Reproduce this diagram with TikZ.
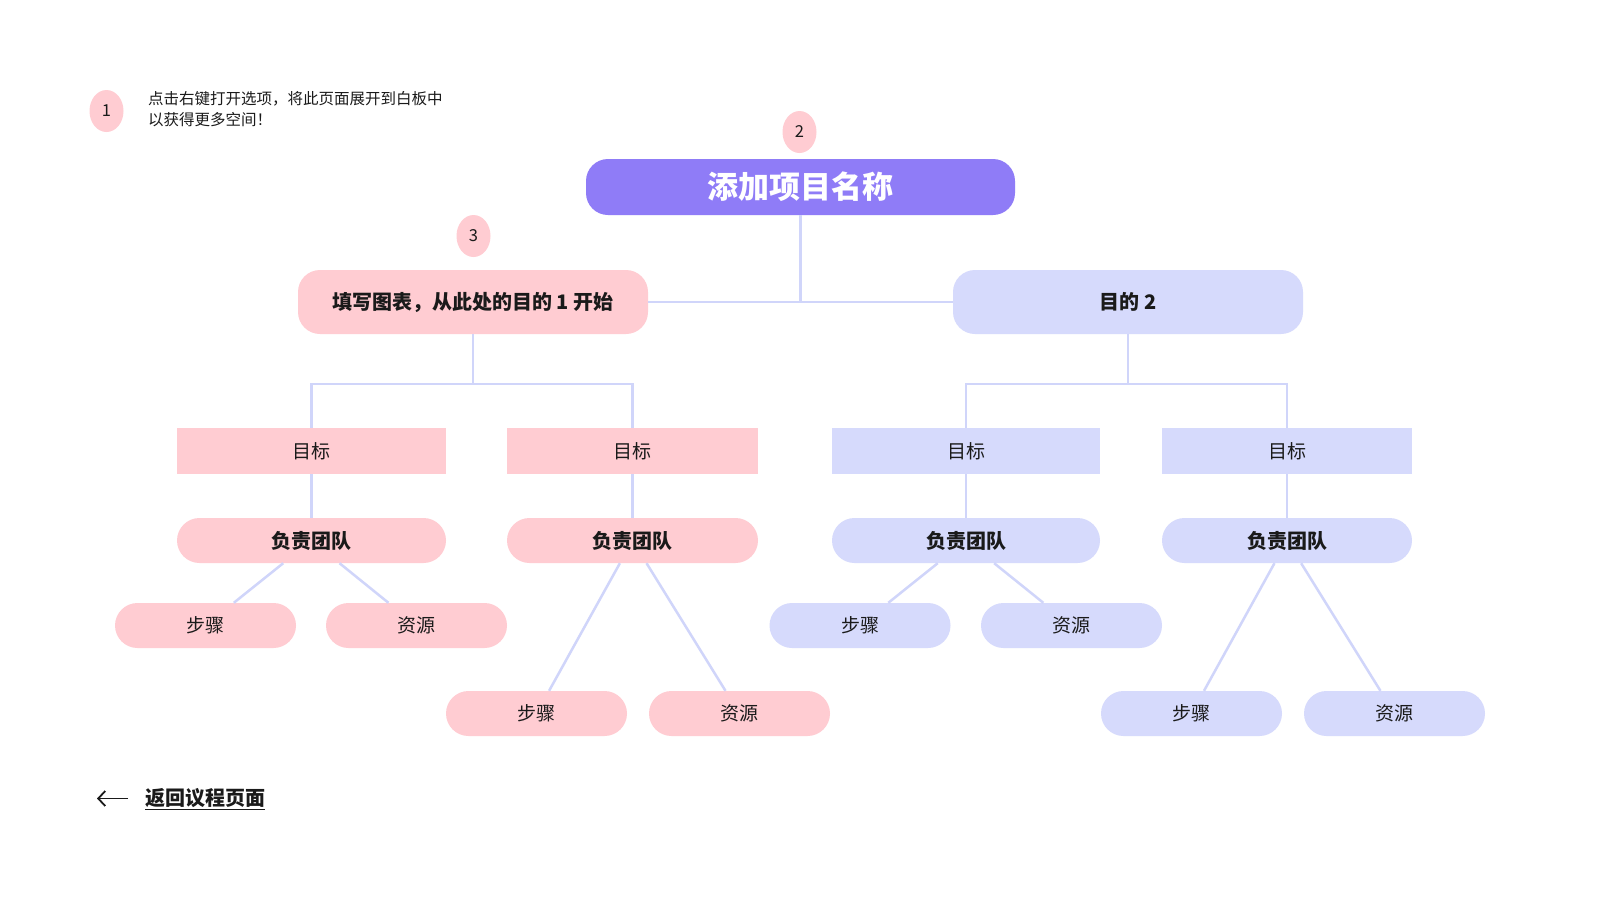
\documentclass[tikz,border=0pt]{standalone}
\usepackage{fontspec}
\setmainfont{Noto Sans CJK SC}
\usetikzlibrary{shapes.geometric,arrows.meta,calc}
\definecolor{pinkfill}{HTML}{FFCCD2}
\definecolor{lavfill}{HTML}{D6DAFC}
\definecolor{purplefill}{HTML}{8F7CF7}
\definecolor{linecol}{HTML}{D0D5FA}
\definecolor{ink}{HTML}{1A1A1A}
\begin{document}
\begin{tikzpicture}[x=1pt,y=-1pt,
  conn/.style={draw=linecol,line width=2.5pt},
  badge/.style={ellipse,fill=pinkfill,minimum width=34pt,minimum height=42pt,inner sep=0pt,font=\fontsize{16.5}{19}\selectfont,text=ink},
  pillbig/.style={rectangle,rounded corners=22pt,minimum height=64pt,minimum width=350pt,inner sep=0pt,font=\bfseries\fontsize{20}{24}\selectfont,text=ink},
  goalbox/.style={rectangle,minimum height=46pt,inner sep=0pt,font=\fontsize{19}{23}\selectfont,text=ink},
  teambox/.style={rectangle,rounded corners=22.5pt,minimum height=45pt,inner sep=0pt,font=\bfseries\fontsize{20}{24}\selectfont,text=ink},
  leafbox/.style={rectangle,rounded corners=22.5pt,minimum height=45pt,minimum width=181pt,inner sep=0pt,font=\fontsize{19}{23}\selectfont,text=ink},
]
\fill[white] (0,0) rectangle (1600,900);
\useasboundingbox (0,0) rectangle (1600,900);

% note
\node[badge] (b1) at (106.5,111) {1};
\node[anchor=west,align=left,inner sep=0pt,text=ink,font=\fontsize{15.5}{21}\selectfont] (note) at (148,109.5) {点击右键打开选项，将此页面展开到白板中\\以获得更多空间！};

% title
\node[badge] (b2) at (799.5,132) {2};
\node[rectangle,fill=purplefill,rounded corners=22pt,minimum width=429pt,minimum height=56pt,inner sep=0pt,text=white,font=\bfseries\fontsize{31}{36}\selectfont] (title) at (800.5,187) {添加项目名称};

% level 1
\node[badge] (b3) at (473.5,236) {3};
\node[pillbig,fill=pinkfill] (p1) at (473,302) {填写图表，从此处的目的 1 开始};
\node[pillbig,fill=lavfill] (p2) at (1128,302) {目的 2};

% goals
\node[goalbox,fill=pinkfill,minimum width=269pt] (g1) at (311.5,451) {目标};
\node[goalbox,fill=pinkfill,minimum width=251pt] (g2) at (632.5,451) {目标};
\node[goalbox,fill=lavfill,minimum width=268pt] (g3) at (966,451) {目标};
\node[goalbox,fill=lavfill,minimum width=250pt] (g4) at (1287,451) {目标};

% teams
\node[teambox,fill=pinkfill,minimum width=269pt] (t1) at (311.5,540.5) {负责团队};
\node[teambox,fill=pinkfill,minimum width=251pt] (t2) at (632.5,540.5) {负责团队};
\node[teambox,fill=lavfill,minimum width=268pt] (t3) at (966,540.5) {负责团队};
\node[teambox,fill=lavfill,minimum width=250pt] (t4) at (1287,540.5) {负责团队};

% leaves
\node[leafbox,fill=pinkfill] (s1) at (205.5,625.5) {步骤};
\node[leafbox,fill=pinkfill] (r1) at (416.5,625.5) {资源};
\node[leafbox,fill=pinkfill] (s2) at (536.5,713.5) {步骤};
\node[leafbox,fill=pinkfill] (r2) at (739.5,713.5) {资源};
\node[leafbox,fill=lavfill] (s3) at (860,625.5) {步骤};
\node[leafbox,fill=lavfill] (r3) at (1071.5,625.5) {资源};
\node[leafbox,fill=lavfill] (s4) at (1191.5,713.5) {步骤};
\node[leafbox,fill=lavfill] (r4) at (1394.5,713.5) {资源};

% connectors
\coordinate (j0) at (800.5,302);
\coordinate (j1) at (473,384);
\coordinate (j2) at (1128,384);
\draw[conn] (p1) -- (p2);
\draw[conn] (title) -- (j0);
\draw[conn] (p1) -- (j1);
\draw[conn] (j1) -| (g1);
\draw[conn] (j1) -| (g2);
\draw[conn] (p2) -- (j2);
\draw[conn] (j2) -| (g3);
\draw[conn] (j2) -| (g4);
\draw[conn] (g1) -- (t1);
\draw[conn] (g2) -- (t2);
\draw[conn] (g3) -- (t3);
\draw[conn] (g4) -- (t4);
\draw[conn] (t1) -- (s1);
\draw[conn] (t1) -- (r1);
\draw[conn] (t2) -- (s2);
\draw[conn] (t2) -- (r2);
\draw[conn] (t3) -- (s3);
\draw[conn] (t3) -- (r3);
\draw[conn] (t4) -- (s4);
\draw[conn] (t4) -- (r4);

% back link
\node[anchor=west,inner sep=0pt,text=ink,font=\bfseries\fontsize{20}{24}\selectfont] (back) at (145,799) {\underline{返回议程页面}};
\coordinate (arrowtail) at (128,798.5);
\coordinate (arrowhead) at (97,798.5);
\draw[ink,line width=1.8pt,-{Straight Barb[length=7pt,width=15pt]}] (arrowtail) -- (arrowhead);
\end{tikzpicture}
\end{document}
